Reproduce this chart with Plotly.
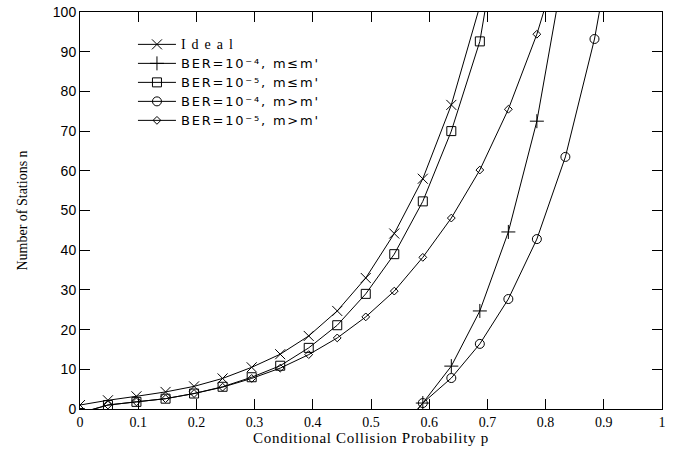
import plotly.graph_objects as go

# Conditional collision probability sample points
p_low = [0.0, 0.048, 0.097, 0.147, 0.196, 0.245, 0.295, 0.344, 0.393, 0.442,
         0.491, 0.540, 0.589, 0.638, 0.687, 0.736, 0.785, 0.834]
p_high = [0.540, 0.589, 0.638, 0.687, 0.736, 0.785, 0.834, 0.884, 0.933]

ideal_p = p_low[:15]
ideal_n = [1.0, 2.2, 3.2, 4.3, 5.7, 7.7, 10.5, 13.8, 18.4, 24.7, 33.0, 44.2, 58.0, 76.6, 101.5]

ber5_le_p = p_low[:16]
ber5_le_n = [-1.0, 1.0, 1.8, 2.6, 3.9, 5.6, 8.0, 10.9, 15.4, 21.1, 29.0, 39.0, 52.3, 70.0, 92.6, 135.0]

ber5_gt_p = p_low[:18]
ber5_gt_n = [-1.0, 1.0, 1.8, 2.6, 3.9, 5.5, 7.7, 10.3, 13.7, 17.9, 23.2, 29.7, 38.2, 48.1, 60.2, 75.5, 94.4, 118.0]

ber4_le_p = p_high[:7]
ber4_le_n = [-7.0, 1.5, 10.8, 24.7, 44.6, 72.5, 113.0]

ber4_gt_p = p_high
ber4_gt_n = [-7.0, 1.5, 7.8, 16.4, 27.7, 42.8, 63.5, 93.2, 133.0]

x_ticks = [0, 0.1, 0.2, 0.3, 0.4, 0.5, 0.6, 0.7, 0.8, 0.9, 1]
x_labels = ["0", "0.1", "0.2", "0.3", "0.4", "0.5", "0.6", "0.7", "0.8", "0.9", "1"]
y_ticks = [0, 10, 20, 30, 40, 50, 60, 70, 80, 90, 100]

SERIF = "Liberation Serif"
SANS = "DejaVu Sans"

fig = go.Figure()

def add(px, ny, name, symbol, size):
    fig.add_trace(go.Scatter(
        x=px, y=ny, name=name, mode="lines+markers",
        line=dict(color="black", width=1),
        marker=dict(symbol=symbol, size=size, color="black",
                    line=dict(color="black", width=1)),
    ))

LS = "font-family:DejaVu Sans;font-size:13px;letter-spacing:1.8px"
add(ideal_p, ideal_n,
    "<span style='font-family:Liberation Serif;font-size:14px;letter-spacing:6px'>Ideal</span>",
    "x-thin", 10)
add(ber4_le_p, ber4_le_n, f"<span style='{LS}'>BER=10⁻⁴, m≤m'</span>", "cross-thin", 10)
add(ber5_le_p, ber5_le_n, f"<span style='{LS}'>BER=10⁻⁵, m≤m'</span>", "square-open", 9)
add(ber4_gt_p, ber4_gt_n, f"<span style='{LS}'>BER=10⁻⁴, m>m'</span>", "circle-open", 9)
add(ber5_gt_p, ber5_gt_n, f"<span style='{LS}'>BER=10⁻⁵, m>m'</span>", "diamond-open", 6)

fig.update_layout(
    width=680, height=457,
    margin=dict(l=80, r=18, t=12, b=48, autoexpand=False),
    paper_bgcolor="white", plot_bgcolor="white",
    font=dict(family=SANS, color="black", size=13),
    showlegend=True,
    legend=dict(x=0.091, y=0.955, xanchor="left", yanchor="top",
                bgcolor="rgba(0,0,0,0)", borderwidth=0,
                font=dict(family=SANS, size=11), itemwidth=38,
                tracegroupgap=0),
    xaxis=dict(range=[0, 1], tickvals=x_ticks, ticktext=x_labels,
               automargin=False, ticklabeloverflow="allow",
               showgrid=False, zeroline=False, showline=True,
               linecolor="black", linewidth=1, mirror="ticks",
               ticks="inside", ticklen=10, tickcolor="black",
               tickfont=dict(family=SERIF, size=14),
               title=dict(text="<span style='letter-spacing:0.7px'>Conditional Collision Probability p</span>",
                          font=dict(family=SERIF, size=15), standoff=2)),
    yaxis=dict(range=[0, 100], tickvals=y_ticks,
               automargin=False, ticklabeloverflow="allow",
               showgrid=False, zeroline=False, showline=True,
               linecolor="black", linewidth=1, mirror="ticks",
               ticks="inside", ticklen=10, tickcolor="black",
               tickfont=dict(family="Liberation Sans", size=14),
               title=dict(text="Number of Stations n",
                          font=dict(family=SERIF, size=14), standoff=21)),
)

# remove the default 8px page margin so the figure sits at the window origin
fig.write_html("out.html", config={"displayModeBar": False},
               post_script="document.body.style.margin='0px';")
